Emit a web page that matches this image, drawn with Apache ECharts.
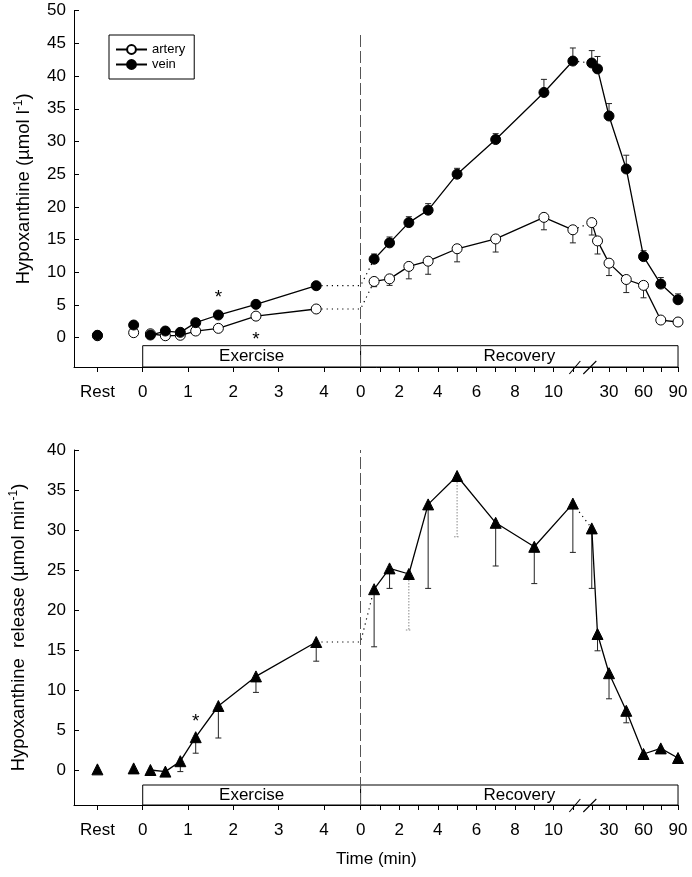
<!DOCTYPE html>
<html><head><meta charset="utf-8">
<script src="https://cdn.jsdelivr.net/npm/echarts@6/dist/echarts.min.js"></script>
<style>html,body{margin:0;padding:0;background:#fff}#c{width:692px;height:877px}</style>
</head><body><div id="c"></div>
<script>
// ===== data =====
const preTime = -0.2;                                   // sample just before exercise (min)
const exTimes = [0.17, 0.5, 0.83, 1.17, 1.67, 2.5, 3.83]; // exercise sample times (min)
const recTimesTop = [0.7, 1.5, 2.5, 3.5, 5, 7, 9.5, 11];  // recovery sample times, upper panel
const recTimesBottom = [0.7, 1.5, 2.5, 3.5, 5, 7, 9, 11]; // recovery sample times, lower panel
const lateTimes = [15, 20, 30, 45, 60, 75, 90];           // late recovery times (after axis break)

// upper panel: hypoxanthine (umol/l)
const arteryRest = [0.3];
const arteryPre = [0.77];
const arteryEx = [0.6, 0.3, 0.37, 1.02, 1.43, 3.3, 4.39];
const arteryRec = [8.6, 9.0, 10.9, 11.7, 13.6, 15.1, 18.4, 16.5];
const arteryRecErr = [0.8, 1.0, 1.9, 2.0, 2.0, 2.0, 1.9, 2.0];
const arteryLate = [17.6, 14.8, 11.4, 8.9, 8.0, 2.7, 2.4];
const arteryLateErr = [1.9, 2.0, 1.9, 2.0, 1.9, 0.4, 0.5];

const veinRest = [0.37];
const veinPre = [1.94];
const veinEx = [0.41, 1.02, 0.82, 2.3, 3.47, 5.1, 7.95];
const veinRec = [12.0, 14.5, 17.6, 19.5, 25.0, 30.3, 37.5, 42.3];
const veinRecErr = [0.8, 0.9, 0.9, 1.0, 0.9, 0.9, 2.0, 2.0];
const veinLate = [42.0, 41.1, 33.9, 25.8, 12.4, 8.2, 5.8];
const veinLateErr = [1.9, 1.9, 1.9, 2.1, 0.9, 1.0, 0.9];

// lower panel: hypoxanthine release (umol/min)
const releaseRest = [0.08];
const releasePre = [0.2];
const releaseEx = [0.0, -0.2, 1.1, 4.1, 8.0, 11.7, 16.0];
const releaseExErr = [0, 0, 1.3, 2.0, 4.0, 2.0, 2.4];
const releaseRec = [22.6, 25.2, 24.5, 33.2, 36.75, 30.9, 27.9, 33.3];
const releaseRecErr = [7.2, 2.5, 7.0, 10.5, 7.6, 5.4, 4.6, 6.1];
const releaseRecFaintErr = [2, 4];  // indices of faint (dotted) bars
const releaseLate = [30.2, 17.0, 12.1, 7.4, 2.0, 2.7, 1.5];
const releaseLateErr = [7.5, 2.1, 3.2, 1.5, 0.3, 0.3, 0.2];

// significance marks (index into exercise arrays)
const veinStarAbove = [4];
const arteryStarBelow = [5];
const releaseStarAbove = [3];

// tick labels
const exTickMinutes = [0, 1, 2, 3, 4];
const recTickMinutes = [0, 1, 2, 3, 4, 5, 6, 7, 8, 9, 10, 11];
const recLabelMinutes = [0, 2, 4, 6, 8, 10];
const lateTickMinutes = [15, 30, 45, 60, 75, 90];
const lateLabelMinutes = [30, 60, 90];
const restLabel = 'Rest';
const topYTicks = [0, 5, 10, 15, 20, 25, 30, 35, 40, 45, 50];
const botYTicks = [0, 5, 10, 15, 20, 25, 30, 35, 40];

// ===== piecewise time axis =====
const REST_POS = -1, REC_ZERO = 4.81, REC_PER_MIN = 0.426, LATE_ANCHOR = 10.294, LATE_PER_MIN = 0.02539;
const X_MIN = -1.517, X_MAX = 11.83;
function xRec(r) { return r < 13 ? REC_ZERO + r * REC_PER_MIN : LATE_ANCHOR + (r - 30) * LATE_PER_MIN; }

const FONT = "'Liberation Sans', Arial, Helvetica, sans-serif";
const tickVals = [REST_POS].concat(exTickMinutes, recTickMinutes.map(xRec), lateTickMinutes.map(xRec));
const labelDefs = [{ v: REST_POS, t: restLabel }]
  .concat(exTickMinutes.map(m => ({ v: m, t: String(m) })))
  .concat(recLabelMinutes.map(m => ({ v: xRec(m), t: String(m) })))
  .concat(lateLabelMinutes.map(m => ({ v: xRec(m), t: String(m) })));
function labelFor(v) {
  const d = labelDefs.find(o => Math.abs(o.v - v) < 1e-6);
  return d ? d.t : '';
}

function xAxisCfg(gridIndex, withName) {
  return {
    type: 'value', gridIndex, min: X_MIN, max: X_MAX,
    axisLine: { show: true, onZero: false, lineStyle: { color: '#000', width: 1 } },
    axisTick: { show: true, customValues: tickVals, length: 5, lineStyle: { color: '#000' } },
    axisLabel: { show: true, customValues: labelDefs.map(o => o.v), formatter: labelFor, margin: 17,
      fontSize: 17, fontFamily: FONT, color: '#000' },
    splitLine: { show: false },
    name: withName ? 'Time (min)' : '', nameLocation: 'middle', nameGap: 46,
    nameTextStyle: { fontSize: 17, fontFamily: FONT, color: '#000' }
  };
}
function yAxisCfg(gridIndex, min, max, ticks, name, gap) {
  return {
    type: 'value', gridIndex, min, max,
    axisLine: { show: true, onZero: false, lineStyle: { color: '#000', width: 1 } },
    axisTick: { show: true, inside: true, customValues: ticks, length: 5, lineStyle: { color: '#000' } },
    axisLabel: { show: true, customValues: ticks, margin: 8, fontSize: 17, fontFamily: FONT, color: '#000' },
    splitLine: { show: false },
    name, nameLocation: 'middle', nameGap: gap, nameRotate: 90,
    nameTextStyle: { fontSize: 18.5, fontFamily: FONT, color: '#000',
      rich: { sup: { fontSize: 12, verticalAlign: 'top', padding: [0, 0, 9, 0], fontFamily: FONT, color: '#000' } } }
  };
}

const TOP_YMIN = -4.48, TOP_YMAX = 50, TOP_BOX = -1.22, TOP_DASH_TOP = 46.6;
const BOT_YMIN = -4.375, BOT_YMAX = 40, BOT_BOX = -1.875;

// build a broken line: segments separated by gaps
function buildLine(segments) {
  const out = [];
  segments.forEach((seg, i) => {
    if (i > 0) out.push(['-', '-']);
    seg.forEach(p => out.push(p));
  });
  return out;
}
function withStars(points, idxs, pos, dist) {
  return points.map((p, i) => idxs.includes(i) ? {
    value: p, label: { show: true, formatter: '*', position: pos, distance: dist,
      fontSize: 19, fontFamily: FONT, color: '#000' } } : p);
}

function curveSeries(name, gi, rest, pre, ex, recT, rec, late, symbol, symbolSize, fill, starIdx, starPos, starDist) {
  const exPts = withStars(exTimes.map((t, i) => [t, ex[i]]), starIdx, starPos, starDist);
  const data = buildLine([
    [[REST_POS, rest[0]]],
    [[preTime, pre[0]]],
    exPts,
    recT.map((t, i) => [xRec(t), rec[i]]),
    lateTimes.map((t, i) => [xRec(t), late[i]])
  ]);
  return {
    name, type: 'line', xAxisIndex: gi, yAxisIndex: gi, data, connectNulls: false,
    symbol, symbolSize, showAllSymbol: true, z: 5,
    lineStyle: { color: '#000', width: 1.3 },
    itemStyle: { color: fill, borderColor: '#000', borderWidth: 1 },
    emphasis: { disabled: true }, animation: false
  };
}
function connectorSeries(gi, ex, recT, rec, late) {
  const lastEx = ex[ex.length - 1];
  const data = buildLine([
    [[exTimes[exTimes.length - 1], lastEx], [REC_ZERO, lastEx], [xRec(recT[0]), rec[0]]],
    [[xRec(recT[recT.length - 1]), rec[rec.length - 1]], [xRec(lateTimes[0]), late[0]]]
  ]);
  return {
    type: 'line', xAxisIndex: gi, yAxisIndex: gi, data, symbol: 'none', connectNulls: false, z: 3,
    lineStyle: { color: '#000', width: 1.2, type: [1.2, 4] }, silent: true, animation: false
  };
}
function errSeries(gi, items) {
  return {
    type: 'custom', xAxisIndex: gi, yAxisIndex: gi, z: 2, silent: true, animation: false,
    encode: { x: 0, y: 1 },
    data: items,
    renderItem: function (params, api) {
      const x = api.value(0), y = api.value(1), e = api.value(2), d = api.value(3), faint = api.value(4);
      if (!(e > 0)) return null;
      const p0 = api.coord([x, y]), p1 = api.coord([x, y + d * e]);
      const style = { stroke: faint ? '#8a8a8a' : '#222', lineWidth: 1, lineDash: faint ? [1.5, 1.5] : null };
      return { type: 'group', children: [
        { type: 'line', shape: { x1: p0[0], y1: p0[1], x2: p1[0], y2: p1[1] }, style },
        { type: 'line', shape: { x1: p1[0] - 3, y1: p1[1], x2: p1[0] + 3, y2: p1[1] }, style }
      ] };
    }
  };
}
function errItems(recT, rec, recErr, late, lateErr, dir, faintIdx, ex, exErr) {
  const items = [];
  if (ex) exTimes.forEach((t, i) => items.push([t, ex[i], exErr[i], dir, 0]));
  recT.forEach((t, i) => items.push([xRec(t), rec[i], recErr[i], dir, faintIdx.includes(i) ? 1 : 0]));
  lateTimes.forEach((t, i) => items.push([xRec(t), late[i], lateErr[i], dir, 0]));
  return items;
}
function frameSeries(gi, yMin, boxTop, dashTop) {
  const breakX = (xRec(recTimesTop[recTimesTop.length - 1]) + xRec(lateTimes[0])) / 2;
  return {
    type: 'custom', xAxisIndex: gi, yAxisIndex: gi, z: 1, silent: true, animation: false, clip: false,
    encode: { x: 0, y: 1 },
    data: [[breakX, yMin]],
    renderItem: function (params, api) {
      const p = api.coord([api.value(0), api.value(1)]);
      const st = { stroke: '#000', lineWidth: 1.1 };
      return { type: 'group', children: [
        { type: 'line', shape: { x1: p[0] - 13, y1: p[1] + 7, x2: p[0] - 2, y2: p[1] - 6 }, style: st, z2: 10 },
        { type: 'line', shape: { x1: p[0] + 1, y1: p[1] + 7, x2: p[0] + 14, y2: p[1] - 6 }, style: st, z2: 10 }
      ] };
    },
    markArea: {
      silent: true,
      itemStyle: { color: '#fff', borderColor: '#000', borderWidth: 1 },
      label: { show: true, position: 'inside', fontSize: 17, fontFamily: FONT, color: '#000' },
      data: [
        [{ name: 'Exercise', coord: [0, yMin] }, { coord: [REC_ZERO, boxTop] }],
        [{ name: 'Recovery', coord: [REC_ZERO, yMin] }, { coord: [xRec(lateTimes[lateTimes.length - 1]), boxTop] }]
      ]
    },
    markLine: {
      silent: true, symbol: 'none', label: { show: false },
      lineStyle: { color: '#555', width: 1, type: [12, 4] },
      data: [[{ coord: [REC_ZERO, yMin] }, { coord: [REC_ZERO, dashTop] }]]
    }
  };
}

const option = {
  animation: false,
  backgroundColor: '#fff',
  textStyle: { fontFamily: FONT },
  grid: [
    { left: 74, right: 13.4, top: 10.7, bottom: 510, containLabel: false },
    { left: 74, right: 13.4, top: 450, bottom: 72, containLabel: false }
  ],
  xAxis: [xAxisCfg(0, false), xAxisCfg(1, true)],
  yAxis: [
    yAxisCfg(0, TOP_YMIN, TOP_YMAX, topYTicks, 'Hypoxanthine (µmol l{sup|-1})', 40),
    yAxisCfg(1, BOT_YMIN, BOT_YMAX, botYTicks, 'Hypoxanthine  release (µmol min{sup|-1})', 45)
  ],
  legend: {
    data: ['artery', 'vein'], orient: 'vertical', left: 109, top: 35,
    padding: [8, 9, 8, 6], itemGap: 2, itemWidth: 31, itemHeight: 11,
    backgroundColor: '#fff', borderColor: '#000', borderWidth: 1, borderRadius: 0,
    selectedMode: false,
    textStyle: { fontSize: 13, fontFamily: FONT, color: '#000' }
  },
  series: [
    frameSeries(0, TOP_YMIN, TOP_BOX, TOP_DASH_TOP),
    frameSeries(1, BOT_YMIN, BOT_BOX, BOT_YMAX),
    errSeries(0, errItems(recTimesTop, arteryRec, arteryRecErr, arteryLate, arteryLateErr, -1, [])),
    errSeries(0, errItems(recTimesTop, veinRec, veinRecErr, veinLate, veinLateErr, 1, [])),
    errSeries(1, errItems(recTimesBottom, releaseRec, releaseRecErr, releaseLate, releaseLateErr, -1, releaseRecFaintErr, releaseEx, releaseExErr)),
    connectorSeries(0, arteryEx, recTimesTop, arteryRec, arteryLate),
    connectorSeries(0, veinEx, recTimesTop, veinRec, veinLate),
    connectorSeries(1, releaseEx, recTimesBottom, releaseRec, releaseLate),
    curveSeries('artery', 0, arteryRest, arteryPre, arteryEx, recTimesTop, arteryRec, arteryLate, 'circle', 10, '#fff', arteryStarBelow, 'bottom', 9),
    curveSeries('vein', 0, veinRest, veinPre, veinEx, recTimesTop, veinRec, veinLate, 'circle', 10, '#000', veinStarAbove, 'top', 2),
    curveSeries('release', 1, releaseRest, releasePre, releaseEx, recTimesBottom, releaseRec, releaseLate, 'triangle', 11, '#000', releaseStarAbove, 'top', 0)
  ]
};
const chart = echarts.init(document.getElementById('c'), null, { renderer: 'canvas' });
chart.setOption(option);
</script></body></html>
